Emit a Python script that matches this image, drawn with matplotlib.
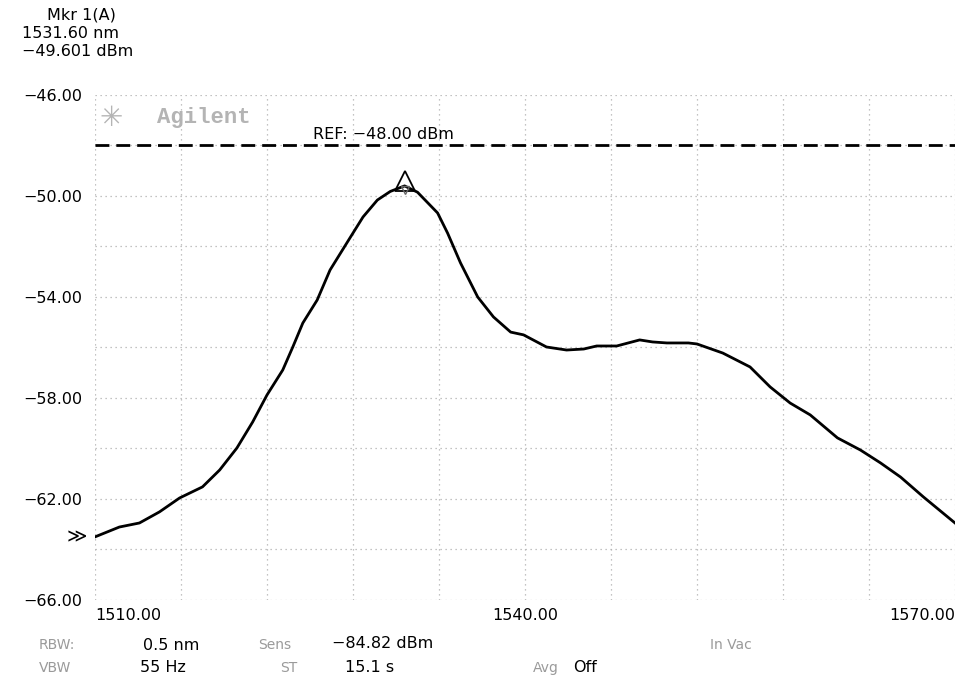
import numpy as np
import matplotlib
matplotlib.use("Agg")
import matplotlib.pyplot as plt

# --- trace (nm, dBm) ---
wavelength_nm = [1510.0, 1511.7, 1513.1, 1514.5, 1515.9, 1517.5, 1518.7, 1519.9,
                 1521.0, 1522.0, 1523.1, 1523.8, 1524.5, 1525.5, 1526.4, 1527.7,
                 1528.7, 1529.7, 1530.6, 1531.6, 1532.5, 1533.9, 1534.6, 1535.5,
                 1536.7, 1537.8, 1539.0, 1539.9, 1541.5, 1542.9, 1544.1, 1545.0,
                 1546.4, 1548.0, 1548.9, 1549.9, 1551.4, 1552.0, 1553.8, 1555.7,
                 1557.1, 1558.5, 1559.9, 1561.8, 1563.4, 1564.8, 1566.2, 1567.8,
                 1570.0]
power_dbm = [-63.50, -63.11, -62.95, -62.51, -61.96, -61.52, -60.85, -59.98,
             -58.95, -57.88, -56.89, -55.98, -55.03, -54.12, -52.93, -51.74,
             -50.83, -50.16, -49.82, -49.60, -49.85, -50.67, -51.47, -52.65,
             -54.00, -54.79, -55.39, -55.50, -55.98, -56.10, -56.06, -55.94,
             -55.94, -55.70, -55.78, -55.82, -55.82, -55.86, -56.22, -56.77,
             -57.56, -58.20, -58.67, -59.58, -60.06, -60.57, -61.13, -61.92,
             -62.95]

marker_nm = 1531.60
marker_dbm = -49.601
ref_dbm = -48.00

x_tick_values = [1510, 1540, 1570]
x_tick_labels = ["1510.00", "1540.00", "1570.00"]
y_tick_values = [-46, -50, -54, -58, -62, -66]
y_tick_labels = ["\u221246.00", "\u221250.00", "\u221254.00",
                 "\u221258.00", "\u221262.00", "\u221266.00"]

plt.rcParams['font.family'] = ['DejaVu Sans']

W, H = 959, 677
fig = plt.figure(figsize=(W / 100, H / 100), dpi=100)
ax = fig.add_axes([95 / W, (H - 600) / H, 860 / W, 505 / H])

ax.set_xlim(1510, 1570)
ax.set_ylim(-66, -46)

# grid: 10 x 10 divisions, dotted
ax.set_xticks(np.arange(1510, 1571, 6), minor=True)
ax.set_yticks(np.arange(-66, -45, 2), minor=True)
ax.grid(which='both', color='#b0b0b0', linestyle=(0, (1, 3)), linewidth=0.9)
for s in ax.spines.values():
    s.set_visible(False)

ax.set_xticks(x_tick_values)
ax.set_xticklabels(x_tick_labels, fontsize=11.5)
for lab, ha in zip(ax.get_xticklabels(), ['left', 'center', 'right']):
    lab.set_horizontalalignment(ha)
ax.set_yticks(y_tick_values)
ax.set_yticklabels(y_tick_labels, fontsize=11.5)
ax.tick_params(which='both', length=0)
ax.tick_params(axis='x', pad=6)
ax.tick_params(axis='y', pad=9)

# reference level
ax.axhline(ref_dbm, color='black', linewidth=2, dashes=(5, 2.5))
ax.text(1525.2, ref_dbm + 0.15, "REF: \u221248.00 dBm", fontsize=11.5,
        ha='left', va='bottom')

# trace
ax.plot(wavelength_nm, power_dbm, color='black', linewidth=2,
        solid_joinstyle='round')

# marker
ax.plot([marker_nm], [marker_dbm + 0.2], marker='^', markersize=14,
        markerfacecolor='none', markeredgecolor='black', markeredgewidth=1.3)
ax.plot([marker_nm], [marker_dbm - 0.15], marker='v', markersize=6,
        markerfacecolor='none', markeredgecolor='#666666', markeredgewidth=1)

# trace start pointer
ax.annotate("\u226b", xy=(wavelength_nm[0], power_dbm[0]), xytext=(-6, 0),
            textcoords='offset points', ha='right', va='center', fontsize=14,
            annotation_clip=False)

# faded logo
ax.text(1510.3, -46.9, "\u2733", fontsize=20, color='#b4b4b4',
        ha='left', va='center')
ax.text(1514.3, -46.9, "Agilent", fontsize=16, color='#b4b4b4',
        family=['Liberation Mono', 'DejaVu Sans'], weight='bold',
        ha='left', va='center')

# header block
def ftext(x, y, s, **kw):
    fig.text(x / W, 1 - y / H, s, va='center', **kw)

ftext(47, 15, "Mkr 1(A)", fontsize=11.5)
ftext(22, 34, "1531.60 nm", fontsize=11.5)
ftext(22, 52, "\u221249.601 dBm", fontsize=11.5)

# bottom settings
grey = '#9a9a9a'
ftext(39, 645, "RBW:", fontsize=10, color=grey)
ftext(143, 645, "0.5 nm", fontsize=11.5)
ftext(258, 645, "Sens", fontsize=10, color=grey)
ftext(332, 644, "\u221284.82 dBm", fontsize=11.5)
ftext(710, 645, "In Vac", fontsize=10, color=grey)
ftext(39, 668, "VBW", fontsize=10, color=grey)
ftext(140, 668, "55 Hz", fontsize=11.5)
ftext(280, 668, "ST", fontsize=10, color=grey)
ftext(345, 668, "15.1 s", fontsize=11.5)
ftext(533, 668, "Avg", fontsize=10, color=grey)
ftext(573, 668, "Off", fontsize=11.5)

fig.savefig("out.png", dpi=100)
